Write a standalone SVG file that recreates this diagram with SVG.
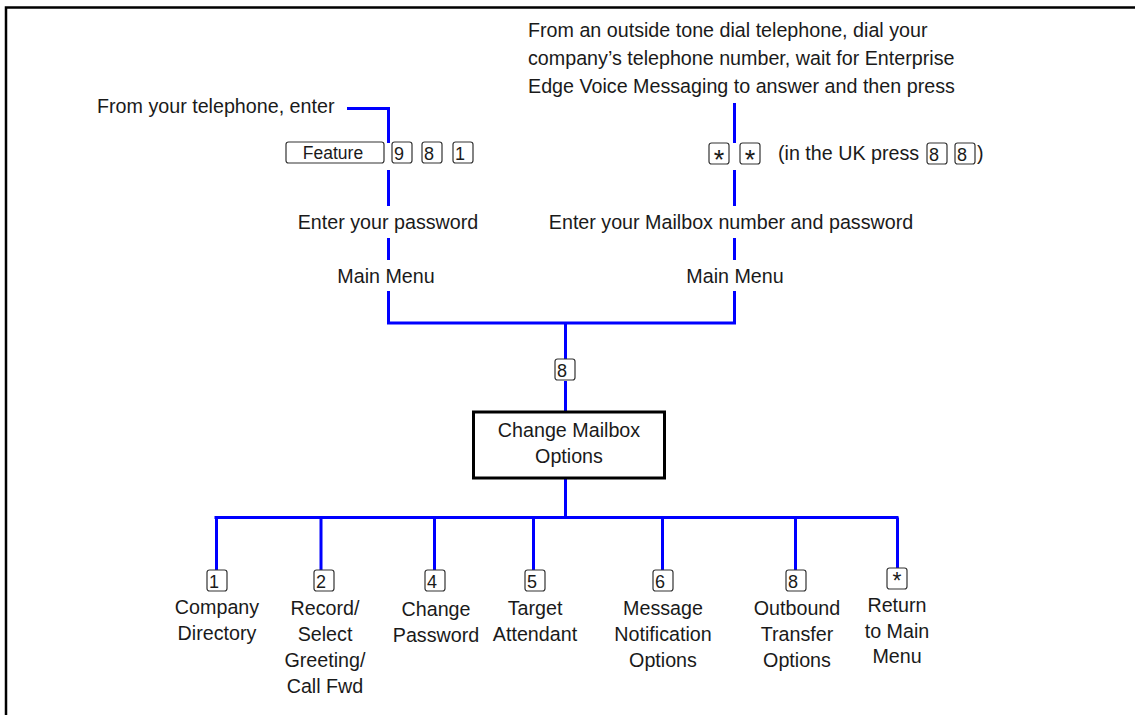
<svg xmlns="http://www.w3.org/2000/svg" width="1135" height="715" viewBox="0 0 1135 715">
<style>
  text { font-family: "Liberation Sans", Arial, sans-serif; font-size: 19.7px; fill: #1a1a1a; }
  .c { text-anchor: middle; }
  .k { font-size: 18px; }
  .f { font-size: 17.5px; text-anchor: middle; }
  .ast { font-size: 27px; text-anchor: middle; }
  .ast2 { font-size: 23px; text-anchor: middle; }
  .key { fill: #fff; stroke: #333; stroke-width: 1.2; }
  .wire { stroke: #0000ff; stroke-width: 3; fill: none; }
  .box { fill: #fff; stroke: #000; stroke-width: 3; }
  .frame { stroke: #000; stroke-width: 2.5; fill: none; }
</style>
<defs>
  <rect id="key" class="key" x="0" y="0" width="20" height="21" rx="2.5"/>
</defs>
<rect width="1135" height="715" fill="#fff"/>
<path class="frame" d="M6 716 V7.5 H1136"/>

<g id="connectors">
  <path class="wire" d="M347 108.5 H388.5 V143"/>
  <path class="wire" d="M388.5 170 V206 M388.5 238 V260 M388.5 291 V323.5"/>
  <path class="wire" d="M734.5 103 V143 M734.5 170 V206 M734.5 238 V260 M734.5 291 V323.5"/>
  <path class="wire" d="M387 323 H736"/>
  <path class="wire" d="M565.5 323 V359 M565.5 381 V412"/>
  <path class="wire" d="M565.5 478 V517.5"/>
  <path class="wire" d="M214.5 517.5 H898.5"/>
  <path class="wire" d="M216.5 517.5 V570 M321 517.5 V570 M434.5 517.5 V570 M533.5 517.5 V570 M662.5 517.5 V570 M795.5 517.5 V570 M897.5 517.5 V568"/>
</g>

<g id="internal-entry">
  <text x="97" y="113">From your telephone, enter</text>
  <rect class="key" x="286" y="142" width="98" height="21" rx="2.5"/>
  <text class="f" x="333" y="158.5">Feature</text>
  <use href="#key" x="392" y="142"/><text class="k" x="394" y="159.5">9</text>
  <use href="#key" x="422" y="142"/><text class="k" x="424" y="159.5">8</text>
  <use href="#key" x="453" y="142"/><text class="k" x="455" y="159.5">1</text>
</g>

<g id="external-entry">
  <text x="528" y="37">From an outside tone dial telephone, dial your</text>
  <text x="528" y="65">company’s telephone number, wait for Enterprise</text>
  <text x="528" y="93">Edge Voice Messaging to answer and then press</text>
  <use href="#key" x="709" y="143"/><text class="ast" x="719" y="168.5">*</text>
  <use href="#key" x="740" y="143"/><text class="ast" x="750" y="168.5">*</text>
  <text x="778" y="160">(in the UK press</text>
  <use href="#key" x="927" y="143"/><text class="k" x="929" y="160.5">8</text>
  <use href="#key" x="955" y="143"/><text class="k" x="957" y="160.5">8</text>
  <text x="977" y="160">)</text>
</g>

<g id="internal-password">
  <text class="c" x="388" y="229">Enter your password</text>
</g>
<g id="external-password">
  <text class="c" x="731" y="229">Enter your Mailbox number and password</text>
</g>
<g id="main-menu-left">
  <text class="c" x="386" y="283">Main Menu</text>
</g>
<g id="main-menu-right">
  <text class="c" x="735" y="283">Main Menu</text>
</g>

<g id="key-8-main">
  <use href="#key" x="555" y="359"/><text class="k" x="557" y="376.5">8</text>
</g>

<g id="change-mailbox-options">
  <rect class="box" x="473.5" y="412" width="191" height="66"/>
  <text class="c" x="569" y="437">Change Mailbox</text>
  <text class="c" x="569" y="463">Options</text>
</g>

<g id="opt-company-directory">
  <use href="#key" x="207" y="570"/><text class="k" x="209" y="587.5">1</text>
  <text class="c" x="217" y="614">Company</text>
  <text class="c" x="217" y="640">Directory</text>
</g>
<g id="opt-record-greeting">
  <use href="#key" x="314" y="570"/><text class="k" x="316" y="587.5">2</text>
  <text class="c" x="325" y="615">Record/</text>
  <text class="c" x="325" y="641">Select</text>
  <text class="c" x="325" y="667">Greeting/</text>
  <text class="c" x="325" y="693">Call Fwd</text>
</g>
<g id="opt-change-password">
  <use href="#key" x="425" y="570"/><text class="k" x="427" y="587.5">4</text>
  <text class="c" x="436" y="616">Change</text>
  <text class="c" x="436" y="642">Password</text>
</g>
<g id="opt-target-attendant">
  <use href="#key" x="525" y="570"/><text class="k" x="527" y="587.5">5</text>
  <text class="c" x="535" y="615">Target</text>
  <text class="c" x="535" y="641">Attendant</text>
</g>
<g id="opt-message-notification">
  <use href="#key" x="653" y="570"/><text class="k" x="655" y="587.5">6</text>
  <text class="c" x="663" y="615">Message</text>
  <text class="c" x="663" y="641">Notification</text>
  <text class="c" x="663" y="667">Options</text>
</g>
<g id="opt-outbound-transfer">
  <use href="#key" x="786" y="570"/><text class="k" x="788" y="587.5">8</text>
  <text class="c" x="797" y="615">Outbound</text>
  <text class="c" x="797" y="641">Transfer</text>
  <text class="c" x="797" y="667">Options</text>
</g>
<g id="opt-return-main">
  <use href="#key" x="887" y="568"/><text class="ast2" x="897" y="589">*</text>
  <text class="c" x="897" y="612">Return</text>
  <text class="c" x="897" y="637.5">to Main</text>
  <text class="c" x="897" y="663">Menu</text>
</g>
</svg>
